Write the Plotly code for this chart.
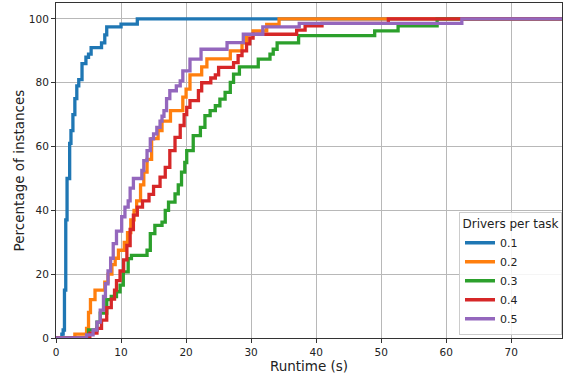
import plotly.graph_objects as go

# Runtime (s) at which each cumulative percentage is reached, per drivers-per-task ratio
labels = ["0.1", "0.2", "0.3", "0.4", "0.5"]
colors = ["#1f77b4", "#ff7f0e", "#2ca02c", "#d62728", "#9467bd"]

rt_01 = [0, 0.6, 0.9, 1.1, 1.3, 1.5, 1.7, 2.1, 2.3, 2.6, 2.9, 3.2, 3.5, 4.0, 4.6, 5.0, 5.4, 7.0, 7.5, 7.8, 10.0, 12.5]
pct_01 = [0, 0, 1.2, 2.5, 15, 37, 50, 61, 65, 70, 75, 79, 81, 86, 88, 89, 91, 92.5, 95, 97.5, 98.4, 100]

rt_02 = [0, 2.9, 4.7, 5.0, 5.3, 6.0, 7.5, 8.0, 8.6, 9.1, 9.6, 10.5, 11.0, 11.5, 12.0, 12.4, 13.0, 13.5, 14.0, 14.7,
         15.7, 16.3, 17.6, 19.5, 20.0, 20.6, 22.4, 23.2, 26.8, 28.6, 29.3, 30.3, 32.4, 34.3]
pct_02 = [0, 1.2, 3, 8, 12, 15, 17.5, 20, 23, 25, 27.5, 30, 33, 37, 40, 43, 48, 52, 56, 62.5,
          65, 68, 71.25, 75.5, 78, 82.5, 85, 87.5, 90, 92.5, 95, 96.25, 98.3, 100]

rt_03 = [0, 5.0, 6.3, 6.8, 7.8, 8.5, 9.3, 9.85, 10.35, 11.1, 11.6, 14.0, 14.5, 15.2, 16.3, 16.8, 17.3, 18.3, 18.8,
         19.3, 19.8, 20.1, 21.1, 22.2, 22.9, 23.7, 24.5, 25.2, 26.0, 26.8, 27.3, 28.2, 31.1, 32.9, 33.4, 34.0,
         37.3, 49.0, 52.6, 58.6]
pct_03 = [0, 2.5, 5, 7.8, 12, 13, 14.5, 16.6, 20.7, 24.9, 25.9, 27.5, 32.7, 35.3, 36.3, 40, 42.6, 45.2, 48,
          52, 55, 58.75, 63.4, 66, 69.7, 71.25, 72.8, 74.9, 77, 80.1, 82.7, 85, 87.4, 89, 90.5, 92.5,
          94.8, 96.25, 97.8, 100]

rt_04 = [0, 5.2, 6.3, 7.0, 7.8, 8.5, 9.0, 9.3, 9.85, 10.4, 10.9, 11.4, 11.9, 12.5, 13.3, 14.3, 15.0, 16.0, 16.8,
         17.5, 18.3, 19.1, 19.7, 20.1, 20.6, 21.9, 22.4, 23.8, 24.5, 25.0, 27.3, 28.0, 28.6, 29.3, 29.8, 30.3,
         37.0, 38.3, 40.9, 51.1]
pct_04 = [0, 1.5, 3, 5.6, 9.5, 12.2, 15, 18, 21, 24.5, 29, 34, 38.5, 41, 43, 45, 47.5, 50.4, 53.5,
          58.75, 62.9, 66.6, 70, 72.3, 74.4, 77.5, 80, 81.5, 82.5, 84.8, 86.3, 88.5, 90, 92.2, 94, 95.2,
          96.5, 97.8, 98.6, 100]

rt_05 = [0, 4.7, 5.7, 6.3, 6.8, 7.3, 7.6, 8.0, 8.4, 8.8, 9.3, 10.1, 10.6, 11.1, 11.4, 11.9, 13.2, 13.5, 14.0,
         14.5, 15.0, 15.5, 16.0, 16.3, 16.6, 17.0, 17.5, 18.5, 19.1, 19.5, 20.6, 22.3, 26.3, 28.8, 31.8,
         37.4, 62.4]
pct_05 = [0, 1, 2.5, 5, 8.75, 13, 17, 21, 25, 29.6, 33.5, 38, 41, 43, 47, 50, 52.5, 55.6, 58.75,
          62.4, 64, 66, 68, 69.5, 71.25, 75, 77.5, 79, 80.6, 83.75, 87.4, 90.5, 92.6, 95.2, 97.5,
          98.6, 100]

runtimes = [rt_01, rt_02, rt_03, rt_04, rt_05]
percents = [pct_01, pct_02, pct_03, pct_04, pct_05]

X_MAX = 77.8
Y_MAX = 105

fig = go.Figure()
for lab, col, xs, ys in zip(labels, colors, runtimes, percents):
    # carry each curve on at its final level to the right edge of the axes
    fig.add_trace(go.Scatter(
        x=list(xs) + [X_MAX], y=list(ys) + [ys[-1]],
        mode="lines", name=lab,
        line=dict(color=col, width=3.3, shape="hv"),
    ))

axis_common = dict(
    showgrid=True, gridcolor="#b8b8b8", gridwidth=1,
    showline=True, linecolor="#333", linewidth=1, mirror=True,
    ticks="outside", ticklen=4, tickcolor="#333",
    zeroline=False,
    tickfont=dict(family="DejaVu Sans", size=10.5, color="#222"),
)

fig.update_xaxes(range=[0, X_MAX], tickvals=[0, 10, 20, 30, 40, 50, 60, 70],
                 title=dict(text="Runtime (s)", font=dict(family="DejaVu Sans", size=13.5, color="#222"), standoff=2),
                 **axis_common)
fig.update_yaxes(range=[0, Y_MAX], tickvals=[0, 20, 40, 60, 80, 100],
                 title=dict(text="Percentage of instances", font=dict(family="DejaVu Sans", size=13.5, color="#222"), standoff=1),
                 **axis_common)

fig.update_layout(
    width=569, height=378,
    margin=dict(l=56, r=7, t=3, b=40),
    plot_bgcolor="white", paper_bgcolor="white",
    font=dict(family="DejaVu Sans", color="#222"),
    legend=dict(
        title=dict(text="Drivers per task", font=dict(size=12), side="top center"),
        x=1.0, y=0.01, xanchor="right", yanchor="bottom",
        bgcolor="rgba(255,255,255,0.85)", bordercolor="#ccc", borderwidth=1,
        font=dict(size=11), itemwidth=30, tracegroupgap=0,
    ),
)

fig.write_html("out.html")
